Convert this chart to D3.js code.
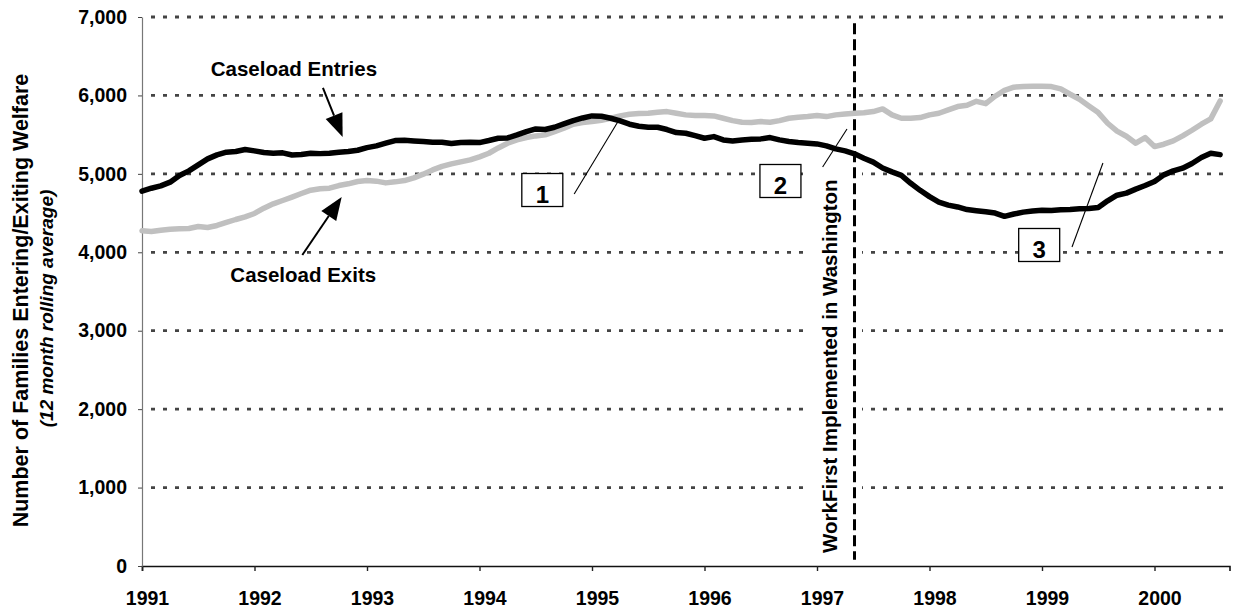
<!DOCTYPE html>
<meta charset="utf-8">
<title>Caseload Entries and Exits</title>
<script src="https://d3js.org/d3.v7.min.js"></script>
<style>
  body { margin: 0; background: #fff; }
  text { font-family: "Liberation Sans", Arial, sans-serif; font-weight: bold; }
</style>
<div id="my_dataviz"></div>
<script>

// monthly values, Jan 1991 .. Aug 2000 (12 month rolling average)
var entries = [
  4780, 4817, 4847, 4894, 4979, 5038, 5115, 5191, 5242, 5276, 5285, 5310,
  5293, 5272, 5263, 5268, 5240, 5246, 5263, 5258, 5263, 5276, 5285, 5301,
  5335, 5357, 5391, 5425, 5429, 5420, 5412, 5403, 5403, 5386, 5399, 5403,
  5399, 5425, 5454, 5458, 5497, 5539, 5573, 5565, 5594, 5637, 5679, 5713,
  5739, 5735, 5709, 5675, 5633, 5607, 5594, 5594, 5565, 5527, 5518, 5488,
  5454, 5475, 5433, 5420, 5433, 5442, 5446, 5463, 5433, 5412, 5399, 5391,
  5382, 5357, 5318, 5293, 5255, 5200, 5150, 5075, 5025, 4980, 4880, 4790,
  4710, 4640, 4602, 4578, 4545, 4530, 4517, 4500, 4458, 4488, 4512, 4527,
  4535, 4533, 4541, 4546, 4554, 4558, 4571, 4656, 4728, 4754, 4805, 4851,
  4902, 4987, 5038, 5072, 5132, 5208, 5263, 5245
];
var exits = [
  4274, 4265, 4282, 4295, 4299, 4304, 4329, 4316, 4342, 4380, 4418, 4452,
  4495, 4563, 4618, 4660, 4703, 4749, 4792, 4810, 4817, 4851, 4873, 4902,
  4915, 4907, 4885, 4898, 4915, 4949, 4996, 5050, 5095, 5127, 5153, 5178,
  5217, 5263, 5330, 5391, 5433, 5463, 5484, 5497, 5539, 5582, 5633, 5654,
  5667, 5684, 5709, 5739, 5760, 5769, 5773, 5786, 5794, 5773, 5752, 5743,
  5743, 5739, 5709, 5679, 5658, 5654, 5667, 5658, 5679, 5709, 5722, 5730,
  5743, 5730, 5752, 5764, 5773, 5778, 5794, 5828, 5752, 5709, 5709, 5718,
  5752, 5773, 5815, 5858, 5875, 5925, 5895, 5990, 6065, 6105, 6115, 6118,
  6118, 6113, 6083, 6015, 5951, 5866, 5781, 5645, 5544, 5480, 5391, 5463,
  5348, 5378, 5420, 5484, 5556, 5633, 5701, 5930
];
var yearLabels = ["1991", "1992", "1993", "1994", "1995", "1996", "1997", "1998", "1999", "2000"];
var yTicks = [0, 1000, 2000, 3000, 4000, 5000, 6000, 7000];
var eventMonth = 76;   // WorkFirst start (months since Jan 1991)
var eventLabel = "WorkFirst Implemented in Washington";
var yTitle = "Number of Families Entering/Exiting Welfare";
var ySubtitle = "(12 month rolling average)";

// annotation anchors, in chart units (month, value)
var seriesNotes = [
  {text: "Caseload Entries", at: [16.2, 6248], from: [19.3, 6095], to: [21.4, 5470]},
  {text: "Caseload Exits",   at: [17.2, 3621], from: [17.1, 3965], to: [21.3, 4705]}
];
var numberNotes = [
  {text: "1", box: [42.7, 4794], from: [46.1, 4743], to: [51.0, 5712]},
  {text: "2", box: [68.1, 4909], from: [72.6, 5087], to: [75.2, 5572]},
  {text: "3", box: [95.7, 4093], from: [99.2, 4067], to: [102.5, 5138]}
];

var W = 1233, H = 609;
var margin = {top: 17, right: 4, bottom: 43, left: 142};

var svg = d3.select("#my_dataviz")
  .append("svg")
    .attr("width", W)
    .attr("height", H);

var x = d3.scaleLinear()
  .domain([0, 116])
  .range([margin.left, margin.left + 116 * 9.375]);

var y = d3.scaleLinear()
  .domain([0, 7000])
  .range([H - margin.bottom, margin.top]);

// horizontal dotted gridlines
svg.append("g")
  .selectAll("line")
  .data(yTicks.filter(function(d) { return d > 0; }))
  .enter()
  .append("line")
    .attr("x1", x(0) + 1)
    .attr("x2", x(116))
    .attr("y1", function(d) { return y(d); })
    .attr("y2", function(d) { return y(d); })
    .attr("stroke", "#444")
    .attr("stroke-width", 2.8)
    .attr("stroke-dasharray", "4,8")
    .attr("stroke-dashoffset", -8);

// white box behind the rotated label
svg.append("rect")
  .attr("x", x(70.9))
  .attr("y", y(5110))
  .attr("width", x(76.8) - x(70.9))
  .attr("height", y(50) - y(5110))
  .attr("fill", "#fff");

svg.append("text")
  .attr("transform", "translate(" + x(74.1) + "," + y(166) + ") rotate(-90)")
  .style("font-size", "20.5px")
  .text(eventLabel);

// vertical dashed event line
svg.append("line")
  .attr("x1", x(eventMonth))
  .attr("x2", x(eventMonth))
  .attr("y1", y(6920))
  .attr("y2", y(80))
  .attr("stroke", "#000")
  .attr("stroke-width", 3)
  .attr("stroke-dasharray", "11,5");

// axes
var xAxis = d3.axisBottom(x)
  .tickValues(d3.range(0, 109, 12))
  .tickFormat(function(d, i) { return yearLabels[i]; })
  .tickSize(5)
  .tickPadding(20.5);

var gx = svg.append("g")
  .attr("transform", "translate(0," + y(0) + ")")
  .call(xAxis);
gx.select(".domain").attr("stroke", "#111").attr("stroke-width", 1.6);
gx.selectAll(".tick line").attr("stroke", "#222").attr("stroke-width", 1.4);
gx.selectAll(".tick text")
  .attr("dx", 5)
  .attr("fill", "#000")
  .style("font-size", "19.5px")
  .style("font-family", "'Liberation Sans', Arial, sans-serif")
  .style("font-weight", "bold");

var yAxis = d3.axisLeft(y)
  .tickValues(yTicks)
  .tickFormat(d3.format(","))
  .tickSize(4)
  .tickSizeOuter(0)
  .tickPadding(11);

var gy = svg.append("g")
  .attr("transform", "translate(" + x(0) + ",0)")
  .call(yAxis);
gy.select(".domain").attr("stroke", "#777").attr("stroke-width", 1.2);
gy.selectAll(".tick line").attr("stroke", "#444");
gy.selectAll(".tick text")
  .attr("fill", "#000")
  .style("font-size", "19.5px")
  .style("font-family", "'Liberation Sans', Arial, sans-serif")
  .style("font-weight", "bold");

// axis titles
var midY = (y(0) + y(7000)) / 2;
svg.append("text")
  .attr("transform", "translate(28," + (midY + 9) + ") rotate(-90)")
  .attr("text-anchor", "middle")
  .style("font-size", "21.5px")
  .text(yTitle);

svg.append("text")
  .attr("transform", "translate(53," + (midY + 17) + ") rotate(-90)")
  .attr("text-anchor", "middle")
  .style("font-size", "19px")
  .style("font-style", "italic")
  .text(ySubtitle);

// series lines
var line = d3.line()
  .x(function(d, i) { return x(i); })
  .y(function(d) { return y(d); });

svg.append("path")
  .datum(exits)
  .attr("fill", "none")
  .attr("stroke", "#c0c0c0")
  .attr("stroke-width", 5.5)
  .attr("stroke-linejoin", "round")
  .attr("stroke-linecap", "round")
  .attr("d", line);

svg.append("path")
  .datum(entries)
  .attr("fill", "none")
  .attr("stroke", "#000")
  .attr("stroke-width", 5.5)
  .attr("stroke-linejoin", "round")
  .attr("stroke-linecap", "round")
  .attr("d", line);

// series labels with arrows
function arrow(from, to) {
  var x1 = x(from[0]), y1 = y(from[1]), x2 = x(to[0]), y2 = y(to[1]);
  var a = Math.atan2(y2 - y1, x2 - x1);
  var len = 23, half = 9;
  var bx = x2 - len * Math.cos(a), by = y2 - len * Math.sin(a);
  svg.append("line")
    .attr("x1", x1).attr("y1", y1)
    .attr("x2", bx).attr("y2", by)
    .attr("stroke", "#000")
    .attr("stroke-width", 2);
  svg.append("path")
    .attr("d", "M" + x2 + "," + y2 +
      "L" + (bx + half * Math.sin(a)) + "," + (by - half * Math.cos(a)) +
      "L" + (bx - half * Math.sin(a)) + "," + (by + half * Math.cos(a)) + "Z")
    .attr("fill", "#000");
}

seriesNotes.forEach(function(n) {
  svg.append("text")
    .attr("x", x(n.at[0]))
    .attr("y", y(n.at[1]))
    .attr("text-anchor", "middle")
    .style("font-size", "20.5px")
    .text(n.text);
  arrow(n.from, n.to);
});

// numbered callouts
numberNotes.forEach(function(n) {
  svg.append("line")
    .attr("x1", x(n.from[0])).attr("y1", y(n.from[1]))
    .attr("x2", x(n.to[0])).attr("y2", y(n.to[1]))
    .attr("stroke", "#000")
    .attr("stroke-width", 1.1);
  var cx = x(n.box[0]), cy = y(n.box[1]);
  svg.append("rect")
    .attr("x", cx - 20.5)
    .attr("y", cy - 16.5)
    .attr("width", 41)
    .attr("height", 33)
    .attr("fill", "#fff")
    .attr("stroke", "#000")
    .attr("stroke-width", 1.3);
  svg.append("text")
    .attr("x", cx)
    .attr("y", cy + 13)
    .attr("text-anchor", "middle")
    .style("font-size", "24px")
    .text(n.text);
});

</script>
